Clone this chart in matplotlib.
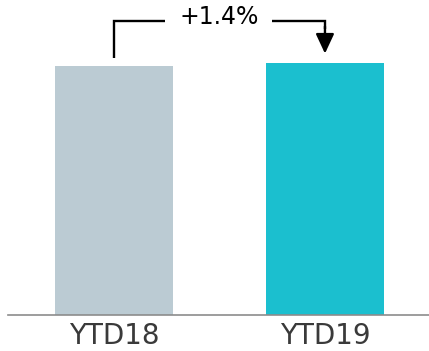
import matplotlib.pyplot as plt

# Bar data
labels = ["YTD18", "YTD19"]
values = [100.0, 101.4]
colors = ["#bbcbd3", "#1bbfcf"]
change_label = "+1.4%"

fig = plt.figure(figsize=(4.29, 3.51), dpi=100)
ax = fig.add_axes([8 / 429, 36 / 351, 421 / 429, 315 / 351])

x = list(range(len(values)))
ax.bar(x, values, width=0.56, color=colors, zorder=2)

ax.set_xlim(-0.502, 1.493)
ax.set_ylim(0, 126.5)

# Bracket annotation
top = max(values) + 16.5
lw = 1.7
ax.plot([x[0], x[0], 0.24], [values[0] + 3.3, top, top], color="black", lw=lw,
        solid_joinstyle="miter", solid_capstyle="butt")
ax.plot([0.75, x[1], x[1]], [top, top, top - 3], color="black", lw=lw,
        solid_joinstyle="miter", solid_capstyle="butt")
ax.annotate("", xy=(x[1], values[1] + 3.6), xytext=(x[1], top - 2),
            arrowprops=dict(arrowstyle="-|>,head_length=0.6,head_width=0.28",
                            mutation_scale=20, lw=lw, color="black",
                            shrinkA=0, shrinkB=0))
ax.text((x[0] + x[1]) / 2, top + 1.8, change_label, ha="center", va="center",
        fontsize=17, color="black")

# Axes styling
for s in ["top", "right", "left"]:
    ax.spines[s].set_visible(False)
ax.spines["bottom"].set_color("#8c8c8c")
ax.spines["bottom"].set_linewidth(1.2)
ax.set_yticks([])
ax.set_xticks(x)
ax.set_xticklabels(labels, fontsize=20, color="#3a3a3a")
ax.tick_params(axis="x", length=0, pad=5)

fig.savefig("out.png", dpi=100)
